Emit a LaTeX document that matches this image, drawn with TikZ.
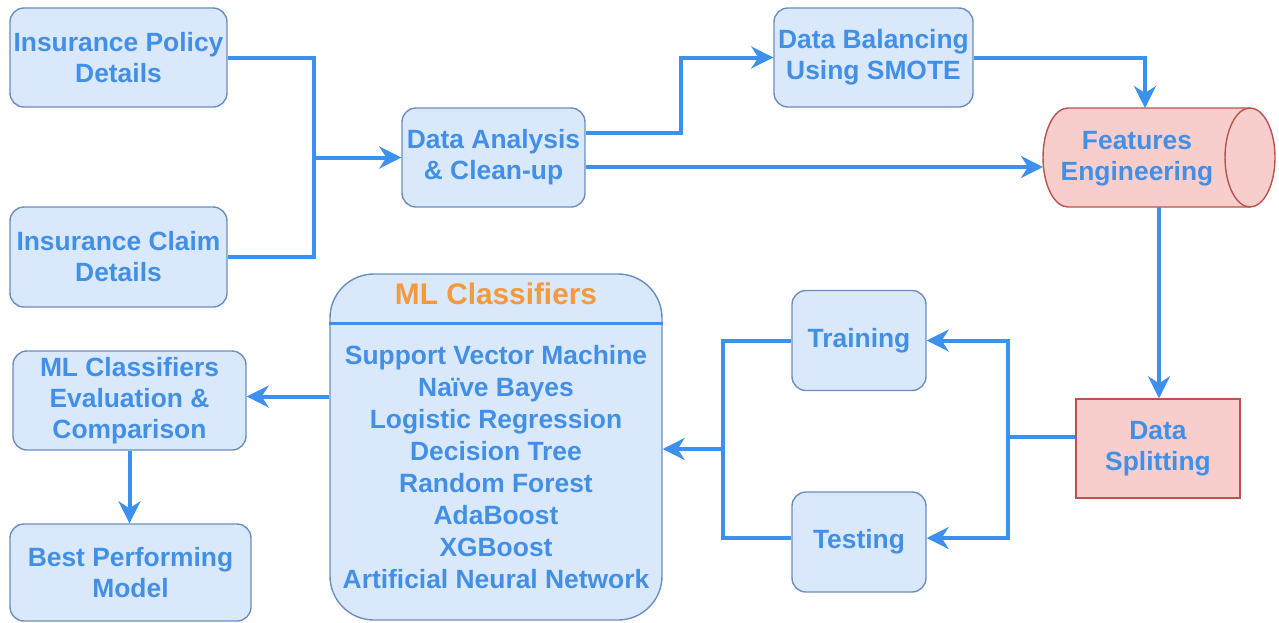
\documentclass[tikz,border=0pt]{standalone}
\usepackage{fontspec}
\setmainfont{Liberation Sans}
\usetikzlibrary{arrows.meta,calc}

\definecolor{boxfill}{HTML}{DAE8FC}
\definecolor{boxline}{HTML}{6C8EBF}
\definecolor{redfill}{HTML}{F8CECC}
\definecolor{redline}{HTML}{B85450}
\definecolor{txtblue}{HTML}{428FE6}
\definecolor{connblue}{HTML}{3D91EE}
\definecolor{titleorange}{HTML}{F29A3C}

\tikzset{
  lbl/.style={text=txtblue, align=center, inner sep=0pt,
    font=\fontsize{13.2}{15.5}\selectfont\bfseries},
  bluebox/.style={lbl, draw=boxline, fill=boxfill, line width=0.7pt,
    rounded corners=7pt},
  redbox/.style={lbl, draw=redline, fill=redfill, line width=0.7pt},
  wire/.style={draw=connblue, line width=2pt},
  flow/.style={wire, -{Stealth[length=11pt, width=11pt, inset=3.5pt]}},
}

\begin{document}
\begin{tikzpicture}[x=0.5pt, y=0.5pt]
\useasboundingbox (0,0) rectangle (1279,-622);

% input sources
\node[bluebox, minimum width=108.5pt, minimum height=49.5pt] (pol) at (118.5,-57.5) {Insurance Policy\\Details};
\node[bluebox, minimum width=108.5pt, minimum height=50pt] (clm) at (118.5,-257) {Insurance Claim\\Details};

% preprocessing
\node[bluebox, minimum width=91.5pt, minimum height=49.5pt] (dac) at (493.5,-157.5) {Data Analysis\\\& Clean-up};
\node[bluebox, minimum width=99.5pt, minimum height=49.5pt] (bal) at (873.5,-57.5) {Data Balancing\\Using SMOTE};

% feature engineering store (horizontal cylinder)
\filldraw[fill=redfill, draw=redline, line width=0.7pt]
  (1068,-108) -- (1250,-108)
  arc[start angle=90, end angle=-90, x radius=25, y radius=49.5]
  -- (1068,-207)
  arc[start angle=270, end angle=90, x radius=25, y radius=49.5] -- cycle;
\draw[redline, line width=0.7pt] (1250,-108)
  arc[start angle=90, end angle=270, x radius=25, y radius=49.5];
\node[minimum width=116pt, minimum height=49.5pt, inner sep=0pt] (fe) at (1159,-157.5) {};
\node[lbl] (fet) at (1137,-158.5) {Features\\Engineering};

% splitting
\node[redbox, minimum width=82pt, minimum height=49.5pt] (spl) at (1158,-448.5) {Data\\Splitting};
\node[bluebox, minimum width=67pt, minimum height=50pt] (trn) at (859,-340.5) {Training};
\node[bluebox, minimum width=67pt, minimum height=50pt] (tst) at (859,-542) {Testing};

% classifier list
\node[draw=boxline, fill=boxfill, line width=0.7pt, rounded corners=22pt,
      minimum width=166pt, minimum height=173pt] (ml) at (496,-447) {};
\node[lbl, text=titleorange, font=\fontsize{14.9}{17}\selectfont\bfseries] (mlt) at (496,-294) {ML Classifiers};
\draw[connblue, line width=1.5pt] (ml.west |- 0,-323) -- (ml.east |- 0,-323);
\node[lbl, font=\fontsize{13.2}{16}\selectfont\bfseries] (mll) at (496,-467.5)
  {Support Vector Machine\\Naïve Bayes\\Logistic Regression\\Decision Tree\\Random Forest\\AdaBoost\\XGBoost\\Artificial Neural Network};

% evaluation
\node[bluebox, minimum width=116.5pt, minimum height=49.5pt] (eva) at (129.5,-400.5) {ML Classifiers\\Evaluation \&\\Comparison};
\node[bluebox, minimum width=120.5pt, minimum height=48.5pt] (best) at (130.5,-572.5) {Best Performing\\Model};

% junction points
\coordinate (j1) at (314,-157.5);
\coordinate (j2) at (1008,-437);
\coordinate (j3) at (723,-449);

% connectors
\draw[wire] (pol.east) -| (j1);
\draw[wire] (clm.east) -| (j1);
\draw[flow] (j1) -- (dac.west);

\draw[flow] ($(dac.east)+(0,25)$) -- ++(95,0) |- (bal.west);
\draw[flow] ($(dac.east)+(0,-9.5)$) -- (1043,-167);
\draw[flow] (bal.east) -| (1145,-108);
\draw[flow] (fe.south) -- (fe.south |- spl.north);

\draw[wire] ($(spl.west)+(0,11.5)$) -- (j2);
\draw[flow] (j2) |- (trn.east);
\draw[flow] (j2) |- ($(tst.east)+(0,4)$);

\draw[wire] (trn.west) -| (j3);
\draw[wire] ($(tst.west)+(0,4)$) -| (j3);
\draw[flow] (j3) -- (ml.east |- j3);

\draw[flow] ($(ml.west |- eva.east)+(0,4)$) -- ($(eva.east)+(0,4)$);
\draw[flow] (eva.south) -- (eva.south |- best.north);
\end{tikzpicture}
\end{document}
